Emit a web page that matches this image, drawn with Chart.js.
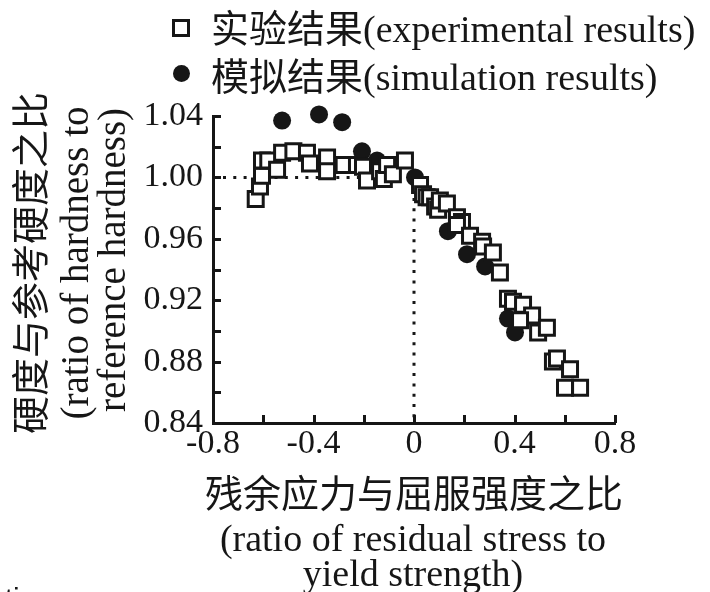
<!DOCTYPE html>
<html>
<head>
<meta charset="utf-8">
<script src="https://cdn.jsdelivr.net/npm/chart.js@4.4.1/dist/chart.umd.min.js"></script>
<style>
  html, body { margin: 0; padding: 0; background: #fff; }
  #wrap {
    position: relative; width: 710px; height: 592px; overflow: hidden;
    font-family: "Liberation Serif", "Noto Sans CJK SC", serif; color: #161616;
  }
  #chart { position: absolute; left: 0; top: 0; }
  .lbl { position: absolute; white-space: nowrap; line-height: 1; transform: translate(-50%, -50%); }
  .vlbl { position: absolute; white-space: nowrap; line-height: 1; transform: translate(-50%, -50%) rotate(-90deg); }
  .leg { position: absolute; white-space: nowrap; line-height: 1; font-size: 38px; transform: translateY(-50%); }
  .mk-sq { position: absolute; width: 12px; height: 12px; border: 3px solid #161616; background: #fff; }
  .mk-dot { position: absolute; width: 17px; height: 17px; border-radius: 50%; background: #161616; }
  .cut { position: absolute; left: -12px; top: 584px; font-family: "Liberation Sans", sans-serif; font-size: 30px; line-height: 1; }
</style>
</head>
<body>
<div id="wrap">
  <canvas id="chart" width="710" height="592"></canvas>
  <div class="cut">ation</div>
</div>
<script>
  // series labels (legend)
  const seriesLabels = ["实验结果(experimental results)", "模拟结果(simulation results)"];

  // experimental results (open squares)
  const expX = [-0.63, -0.613, -0.605, -0.605, -0.58, -0.545, -0.525, -0.48, -0.426, -0.414,
    -0.346, -0.346, -0.28, -0.227, -0.203, -0.187, -0.135, -0.12, -0.107, -0.084, -0.036,
    0.024, 0.036, 0.05, 0.064, 0.084, 0.096, 0.103, 0.131, 0.171, 0.191, 0.171, 0.223,
    0.271, 0.275, 0.314, 0.342, 0.374, 0.394, 0.434, 0.47, 0.422, 0.494, 0.529, 0.553,
    0.569, 0.621, 0.601, 0.661];
  const expY = [0.986, 0.994, 1.001, 1.011, 1.011, 1.005, 1.016, 1.017, 1.016, 1.009,
    1.013, 1.004, 1.008, 1.008, 1.007, 0.998, 1.004, 0.999, 1.008, 1.002, 1.011,
    0.995, 0.989, 0.987, 0.987, 0.981, 0.979, 0.985, 0.983, 0.974, 0.971, 0.969, 0.962,
    0.958, 0.955, 0.951, 0.938, 0.921, 0.919, 0.917, 0.910, 0.907, 0.899, 0.902, 0.880,
    0.882, 0.875, 0.863, 0.863];

  // simulation results (filled circles)
  const simX = [-0.525, -0.378, -0.286, -0.207, -0.147, 0.004, 0.135, 0.211, 0.283, 0.374, 0.402];
  const simY = [1.037, 1.041, 1.036, 1.017, 1.011, 1.000, 0.965, 0.950, 0.942, 0.908, 0.899];

  // axis ticks
  const xTickLabels = ["-0.8", "-0.4", "0", "0.4", "0.8"];
  const yTickLabels = ["0.84", "0.88", "0.92", "0.96", "1.00", "1.04"];

  // axis titles
  const xTitle = ["残余应力与屈服强度之比", "(ratio of residual stress to", "yield strength)"];
  const yTitle = ["硬度与参考硬度之比", "(ratio of hardness to", "reference hardness)"];

  const INK = "#161616";
  const wrap = document.getElementById("wrap");

  const addText = (text, cls, x, y, size) => {
    const d = document.createElement("div");
    d.className = cls;
    d.textContent = text;
    d.style.left = x + "px";
    d.style.top = y + "px";
    if (size) d.style.fontSize = size + "px";
    wrap.appendChild(d);
    return d;
  };

  // titles
  addText(xTitle[0], "lbl", 414, 494, 38);
  addText(xTitle[1], "lbl", 413, 538, 38);
  addText(xTitle[2], "lbl", 413, 573, 38);
  addText(yTitle[0], "vlbl", 31, 263, 38);
  addText(yTitle[1], "vlbl", 74, 263, 39);
  addText(yTitle[2], "vlbl", 111, 260, 39);

  // legend
  const sq = document.createElement("div");
  sq.className = "mk-sq"; sq.style.left = "172px"; sq.style.top = "19px";
  wrap.appendChild(sq);
  const dot = document.createElement("div");
  dot.className = "mk-dot"; dot.style.left = "173px"; dot.style.top = "65px";
  wrap.appendChild(dot);
  addText(seriesLabels[0], "leg", 211, 29);
  addText(seriesLabels[1], "leg", 211, 77);

  // inward tick marks + dotted guide lines
  const decorations = {
    id: "decorations",
    beforeDatasetsDraw(chart) {
      const { ctx, chartArea, scales: { x, y } } = chart;
      ctx.save();
      ctx.strokeStyle = INK;
      ctx.lineWidth = 3;
      ctx.beginPath();
      x.ticks.forEach(t => {
        const px = Math.round(x.getPixelForValue(t.value)) + 0.5;
        ctx.moveTo(px, chartArea.bottom);
        ctx.lineTo(px, chartArea.bottom - 8);
      });
      y.ticks.forEach(t => {
        const py = Math.round(y.getPixelForValue(t.value)) + 0.5;
        ctx.moveTo(chartArea.left, py);
        ctx.lineTo(chartArea.left + 8, py);
      });
      ctx.stroke();

      // dotted reference lines at y = 1.00 and x = 0
      ctx.setLineDash([3, 7.3]);
      ctx.beginPath();
      const y1 = y.getPixelForValue(1.0);
      const x0 = x.getPixelForValue(0);
      ctx.moveTo(chartArea.left + 10, y1);
      ctx.lineTo(x0, y1);
      ctx.moveTo(x0, y1);
      ctx.lineTo(x0, chartArea.bottom);
      ctx.stroke();
      ctx.restore();
    }
  };

  new Chart(document.getElementById("chart"), {
    type: "scatter",
    data: {
      datasets: [
        {
          label: seriesLabels[0],
          data: expX.map((v, i) => ({ x: v, y: expY[i] })),
          pointStyle: "rect",
          pointRadius: 10.6,
          pointBorderWidth: 3,
          pointBorderColor: INK,
          pointBackgroundColor: "#fff",
          clip: false,
          order: 0
        },
        {
          label: seriesLabels[1],
          data: simX.map((v, i) => ({ x: v, y: simY[i] })),
          pointStyle: "circle",
          pointRadius: 9,
          pointBorderWidth: 0,
          pointBackgroundColor: INK,
          clip: false,
          order: 1
        }
      ]
    },
    options: {
      responsive: false,
      animation: false,
      events: [],
      layout: { padding: { left: 0, right: 95, top: 116, bottom: 109 } },
      plugins: { legend: { display: false }, tooltip: { enabled: false } },
      scales: {
        x: {
          type: "linear",
          min: -0.8, max: 0.8,
          afterFit: s => { s.height = 60; },
          border: { display: true, color: INK, width: 3 },
          grid: { display: false, drawTicks: false },
          ticks: {
            stepSize: 0.2, autoSkip: false, maxRotation: 0, padding: 1,
            color: INK,
            font: { family: "Liberation Serif", size: 34 },
            callback: v => {
              const s = String(Math.round(v * 10) / 10);
              return xTickLabels.includes(s) ? s : "";
            }
          }
        },
        y: {
          type: "linear",
          min: 0.84, max: 1.04,
          afterFit: s => { s.width = 213; },
          border: { display: true, color: INK, width: 3 },
          grid: { display: false, drawTicks: false },
          ticks: {
            stepSize: 0.02, autoSkip: false, padding: 10,
            color: INK,
            font: { family: "Liberation Serif", size: 34 },
            callback: v => {
              const s = v.toFixed(2);
              return yTickLabels.includes(s) ? s : "";
            }
          }
        }
      }
    },
    plugins: [decorations]
  });
</script>
</body>
</html>
